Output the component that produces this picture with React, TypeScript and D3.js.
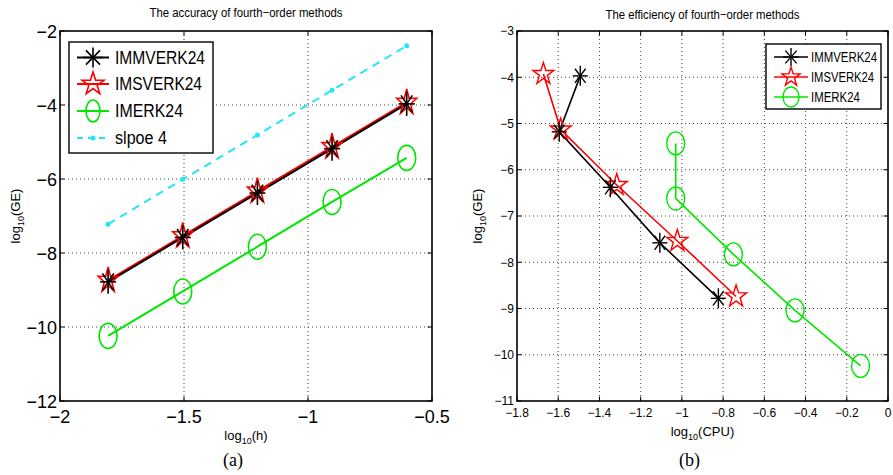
import React from "react";
import * as d3 from "d3";

// log10 of the step sizes h = 1/64 ... 1/4
const hLog = [-1.806, -1.505, -1.204, -0.903, -0.602];

// log10 of the global error for each method, same order as hLog
const geImmverk = [-8.78, -7.58, -6.38, -5.18, -3.97];
const geImsverk = [-8.74, -7.54, -6.33, -5.13, -3.93];
const geImerk = [-10.24, -9.04, -7.83, -6.62, -5.43];
const geSlope4 = [-7.22, -6.01, -4.81, -3.6, -2.4];

// log10 of the CPU time for each method, same order as hLog
const cpuImmverk = [-0.823, -1.107, -1.347, -1.595, -1.493];
const cpuImsverk = [-0.737, -1.022, -1.316, -1.588, -1.672];
const cpuImerk = [-0.133, -0.451, -0.75, -1.03, -1.03];

const accXTicks = [-2, -1.5, -1, -0.5];
const accYTicks = [-12, -10, -8, -6, -4, -2];
const effXTicks = [-1.8, -1.6, -1.4, -1.2, -1, -0.8, -0.6, -0.4, -0.2, 0];
const effYTicks = [-11, -10, -9, -8, -7, -6, -5, -4, -3];

const BLACK = "#000000";
const RED = "#ff0000";
const GREEN = "#00e600";
const CYAN = "#22e6f5";
const SANS = "'Liberation Sans', Arial, Helvetica, sans-serif";
const MINUS = "\u2212";

const fmt = (v: number) => (v === 0 ? "0" : String(v).replace("-", MINUS));

type MarkerKind = "asterisk" | "star" | "circle" | "dot";

function Marker({ kind, x, y, rx, ry, color, sw }: { kind: MarkerKind; x: number; y: number; rx: number; ry: number; color: string; sw: number }) {
  if (kind === "asterisk") {
    const d = 0.707;
    return (
      <g stroke={color} strokeWidth={sw} strokeLinecap="butt">
        <line x1={x - rx} y1={y} x2={x + rx} y2={y} />
        <line x1={x} y1={y - ry} x2={x} y2={y + ry} />
        <line x1={x - rx * d} y1={y - ry * d} x2={x + rx * d} y2={y + ry * d} />
        <line x1={x - rx * d} y1={y + ry * d} x2={x + rx * d} y2={y - ry * d} />
      </g>
    );
  }
  if (kind === "star") {
    const pts = d3.range(10).map((i) => {
      const a = ((-90 + i * 36) * Math.PI) / 180;
      const r = i % 2 === 0 ? 1 : 0.382;
      return [x + rx * r * Math.cos(a), y + ry * r * Math.sin(a)] as [number, number];
    });
    return <polygon points={pts.map((p) => p.join(",")).join(" ")} fill="none" stroke={color} strokeWidth={sw} strokeLinejoin="miter" />;
  }
  if (kind === "circle") {
    return <ellipse cx={x} cy={y} rx={rx} ry={ry} fill="none" stroke={color} strokeWidth={sw} />;
  }
  return <circle cx={x} cy={y} r={rx} fill={color} />;
}

type Series = {
  name: string;
  color: string;
  marker: MarkerKind;
  xs: number[];
  ys: number[];
  dashed?: boolean;
};

type PanelProps = {
  x0: number;
  x1: number;
  y0: number;
  y1: number;
  xDomain: [number, number];
  yDomain: [number, number];
  xTicks: number[];
  yTicks: number[];
  series: Series[];
  drawOrder: number[];
  title: string;
  titleY: number;
  titleLen: number;
  tickFont: number;
  xTickBaseline: number;
  yTickShift: number;
  lineWidth: number;
  markerSize: Record<MarkerKind, [number, number]>;
  markerStroke: number;
  xLabel: string;
  xLabelY: number;
  yLabelX: number;
  panelTag: string;
  legend: {
    x: number;
    y: number;
    w: number;
    h: number;
    rowY: number[];
    lineX0: number;
    lineX1: number;
    textX: number;
    font: number;
    textLens: number[];
    markerSize: Record<MarkerKind, [number, number]>;
  };
};

function Panel(p: PanelProps) {
  const xs = d3.scaleLinear().domain(p.xDomain).range([p.x0, p.x1]);
  const ys = d3.scaleLinear().domain(p.yDomain).range([p.y1, p.y0]);
  const cx = (p.x0 + p.x1) / 2;
  const tickLen = 4.5;
  const lg = p.legend;

  return (
    <g fontFamily={SANS}>
      {/* dotted grid */}
      <g stroke="#444" strokeWidth={1} strokeDasharray="1,3">
        {p.xTicks
          .filter((t) => t > p.xDomain[0] && t < p.xDomain[1])
          .map((t) => (
            <line key={"gx" + t} x1={xs(t)} x2={xs(t)} y1={p.y0} y2={p.y1} />
          ))}
        {p.yTicks
          .filter((t) => t > p.yDomain[0] && t < p.yDomain[1])
          .map((t) => (
            <line key={"gy" + t} x1={p.x0} x2={p.x1} y1={ys(t)} y2={ys(t)} />
          ))}
      </g>

      {/* tick marks on all four sides */}
      <g stroke="#000" strokeWidth={1}>
        {p.xTicks.map((t) => (
          <g key={"tx" + t}>
            <line x1={xs(t)} x2={xs(t)} y1={p.y1} y2={p.y1 - tickLen} />
            <line x1={xs(t)} x2={xs(t)} y1={p.y0} y2={p.y0 + tickLen} />
          </g>
        ))}
        {p.yTicks.map((t) => (
          <g key={"ty" + t}>
            <line x1={p.x0} x2={p.x0 + tickLen} y1={ys(t)} y2={ys(t)} />
            <line x1={p.x1} x2={p.x1 - tickLen} y1={ys(t)} y2={ys(t)} />
          </g>
        ))}
      </g>

      {/* tick labels */}
      <g fontSize={p.tickFont} fill="#000">
        {p.xTicks.map((t) => (
          <text key={"lx" + t} x={xs(t)} y={p.xTickBaseline} textAnchor="middle">
            {fmt(t)}
          </text>
        ))}
        {p.yTicks.map((t) => (
          <text key={"ly" + t} x={p.x0 - 3} y={ys(t) + p.yTickShift} textAnchor="end">
            {fmt(t)}
          </text>
        ))}
      </g>

      {/* series lines */}
      {p.drawOrder.map((i) => {
        const s = p.series[i];
        const path = d3
          .line<number>()
          .x((_, k) => xs(s.xs[k]))
          .y((v) => ys(v))(s.ys);
        return (
          <path
            key={"l" + s.name}
            d={path || ""}
            fill="none"
            stroke={s.color}
            strokeWidth={p.lineWidth}
            strokeDasharray={s.dashed ? "8,6" : undefined}
          />
        );
      })}

      {/* series markers */}
      {p.drawOrder.map((i) => {
        const s = p.series[i];
        const [rx, ry] = p.markerSize[s.marker];
        return (
          <g key={"m" + s.name}>
            {s.ys.map((v, k) => (
              <Marker key={k} kind={s.marker} x={xs(s.xs[k])} y={ys(v)} rx={rx} ry={ry} color={s.color} sw={p.markerStroke} />
            ))}
          </g>
        );
      })}

      {/* axes box */}
      <rect x={p.x0} y={p.y0} width={p.x1 - p.x0} height={p.y1 - p.y0} fill="none" stroke="#000" strokeWidth={1.6} />

      {/* legend */}
      <rect x={lg.x} y={lg.y} width={lg.w} height={lg.h} fill="#fff" stroke="#000" strokeWidth={1.4} />
      {p.series.map((s, i) => {
        const yy = lg.rowY[i];
        const mx = (lg.lineX0 + lg.lineX1) / 2;
        const [rx, ry] = lg.markerSize[s.marker];
        return (
          <g key={"lg" + s.name}>
            <line x1={lg.lineX0} x2={lg.lineX1} y1={yy} y2={yy} stroke={s.color} strokeWidth={p.lineWidth} strokeDasharray={s.dashed ? "6,5" : undefined} />
            <Marker kind={s.marker} x={mx} y={yy} rx={rx} ry={ry} color={s.color} sw={p.markerStroke} />
            <text x={lg.textX} y={yy + lg.font * 0.36} fontSize={lg.font} textLength={lg.textLens[i]} lengthAdjust="spacingAndGlyphs" fill="#000">
              {s.name}
            </text>
          </g>
        );
      })}

      {/* title */}
      <text x={cx} y={p.titleY} fontSize={12.5} textAnchor="middle" textLength={p.titleLen} lengthAdjust="spacingAndGlyphs" fill="#000">
        {p.title}
      </text>

      {/* x label */}
      <text x={cx} y={p.xLabelY} fontSize={13} textAnchor="middle" fill="#000">
        log
        <tspan fontSize={9} dy={4}>
          10
        </tspan>
        <tspan dy={-4}>({p.xLabel})</tspan>
      </text>

      {/* y label */}
      <text transform={`translate(${p.yLabelX},${(p.y0 + p.y1) / 2}) rotate(-90)`} fontSize={13} textAnchor="middle" fill="#000">
        log
        <tspan fontSize={9} dy={4}>
          10
        </tspan>
        <tspan dy={-4}>(GE)</tspan>
      </text>

      {/* panel tag */}
      <text x={cx - 13} y={466} fontSize={18} textAnchor="middle" fontFamily="'Liberation Serif', 'DejaVu Serif', serif" fill="#000">
        {p.panelTag}
      </text>
    </g>
  );
}

export default function App() {
  const accSeries: Series[] = [
    { name: "IMMVERK24", color: BLACK, marker: "asterisk", xs: hLog, ys: geImmverk },
    { name: "IMSVERK24", color: RED, marker: "star", xs: hLog, ys: geImsverk },
    { name: "IMERK24", color: GREEN, marker: "circle", xs: hLog, ys: geImerk },
    { name: "slpoe 4", color: CYAN, marker: "dot", xs: hLog, ys: geSlope4, dashed: true },
  ];
  const effSeries: Series[] = [
    { name: "IMMVERK24", color: BLACK, marker: "asterisk", xs: cpuImmverk, ys: geImmverk },
    { name: "IMSVERK24", color: RED, marker: "star", xs: cpuImsverk, ys: geImsverk },
    { name: "IMERK24", color: GREEN, marker: "circle", xs: cpuImerk, ys: geImerk },
  ];

  return (
    <svg width={893} height={475} viewBox="0 0 893 475" style={{ display: "block", position: "absolute", left: 0, top: 0, background: "#fff" }}>
      <rect x={0} y={0} width={893} height={475} fill="#fff" />
      <Panel
        x0={60}
        x1={432}
        y0={31}
        y1={401}
        xDomain={[-2, -0.5]}
        yDomain={[-12, -2]}
        xTicks={accXTicks}
        yTicks={accYTicks}
        series={accSeries}
        drawOrder={[3, 2, 1, 0]}
        title={"The accuracy of fourth" + MINUS + "order methods"}
        titleY={17}
        titleLen={193}
        tickFont={18}
        xTickBaseline={423}
        yTickShift={6.5}
        lineWidth={2}
        markerSize={{ asterisk: [8, 12], star: [10.5, 13.5], circle: [9, 12.5], dot: [2.5, 2.5] }}
        markerStroke={1.6}
        xLabel="h"
        xLabelY={440}
        yLabelX={20}
        panelTag="(a)"
        legend={{
          x: 69,
          y: 42,
          w: 144,
          h: 111,
          rowY: [57.5, 84, 111, 138],
          lineX0: 77,
          lineX1: 109,
          textX: 115,
          font: 18,
          textLens: [90, 87, 68, 52],
          markerSize: { asterisk: [10, 10], star: [11.5, 12], circle: [7, 11], dot: [2.5, 2.5] },
        }}
      />
      <Panel
        x0={517}
        x1={888}
        y0={31}
        y1={401}
        xDomain={[-1.8, 0]}
        yDomain={[-11, -3]}
        xTicks={effXTicks}
        yTicks={effYTicks}
        series={effSeries}
        drawOrder={[2, 1, 0]}
        title={"The efficiency of fourth" + MINUS + "order methods"}
        titleY={19}
        titleLen={194}
        tickFont={12}
        xTickBaseline={417}
        yTickShift={4.3}
        lineWidth={1.6}
        markerSize={{ asterisk: [7.5, 10], star: [11, 11.5], circle: [9, 11.5], dot: [2, 2] }}
        markerStroke={1.4}
        xLabel="CPU"
        xLabelY={436}
        yLabelX={482}
        panelTag="(b)"
        legend={{
          x: 766,
          y: 44,
          w: 115,
          h: 65,
          rowY: [57, 77, 97],
          lineX0: 774,
          lineX1: 808,
          textX: 811,
          font: 14,
          textLens: [66, 63, 49],
          markerSize: { asterisk: [8, 9], star: [9.5, 10], circle: [8, 10], dot: [2, 2] },
        }}
      />
    </svg>
  );
}
